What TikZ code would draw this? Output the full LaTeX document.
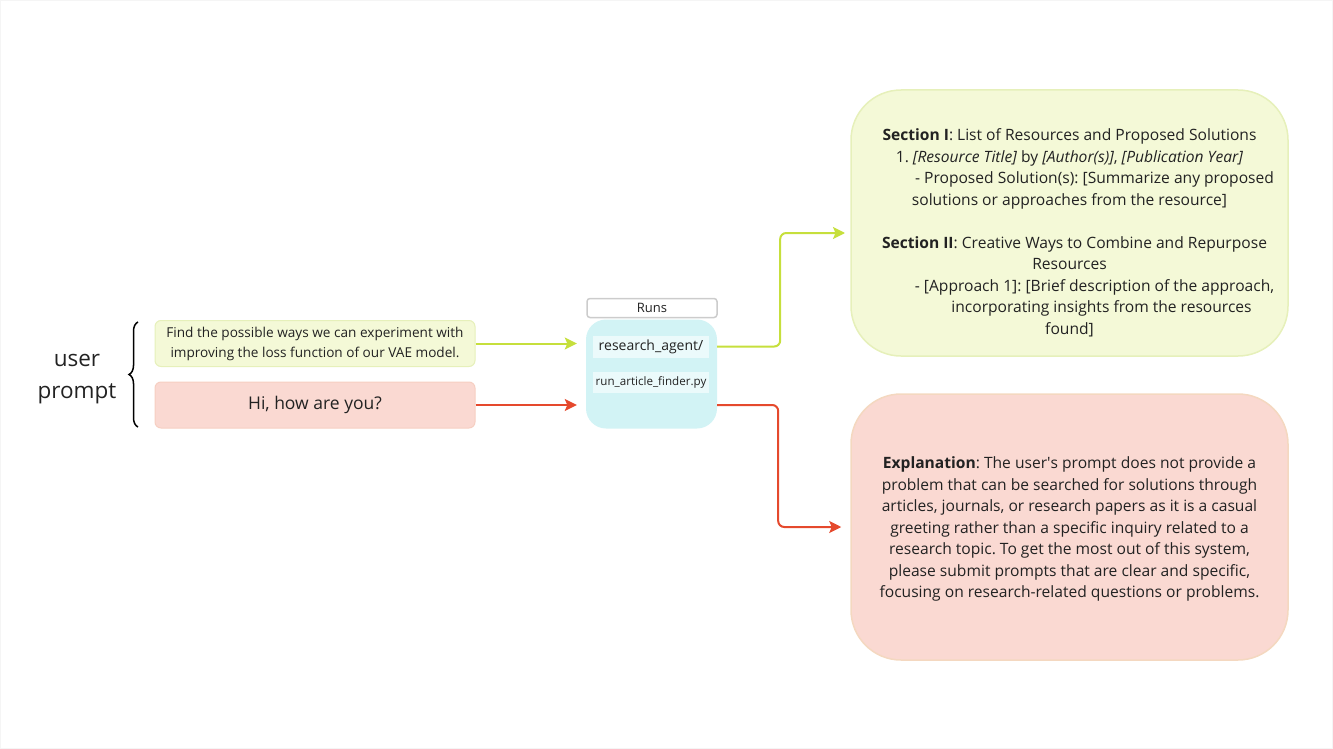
\documentclass[tikz,border=0pt]{standalone}
\usepackage{fontspec}
\setmainfont{Open Sans}
\usetikzlibrary{arrows.meta,decorations.pathreplacing,positioning}

\definecolor{greenfill}{HTML}{F4F9D7}
\definecolor{greenline}{HTML}{E6F0BA}
\definecolor{redfill}{HTML}{FAD9D2}
\definecolor{redline}{HTML}{F6CFC2}
\definecolor{tanline}{HTML}{F4D8C0}
\definecolor{cyanfill}{HTML}{D2F3F5}
\definecolor{labelfill}{HTML}{EBFAFB}
\definecolor{greenarrow}{HTML}{C6DF3C}
\definecolor{redarrow}{HTML}{E5492D}
\definecolor{textgray}{HTML}{222222}

\frenchspacing

\begin{document}
\begin{tikzpicture}[x=1pt,y=-1pt,
    every node/.style={text=textgray},
    prompt box/.style={rectangle,rounded corners=6pt,draw,line width=1pt,
        minimum width=320pt,minimum height=46pt,align=center},
    answer box/.style={rectangle,rounded corners=50pt,draw,line width=1.5pt,
        minimum width=437pt,minimum height=266pt},
    answer text/.style={align=center,font=\fontsize{15.6}{21.5}\selectfont},
    file label/.style={rectangle,fill=labelfill,minimum width=116pt,align=center},
    green link/.style={draw=greenarrow,line width=2pt,rounded corners=6pt,
        -{Stealth[length=12pt,width=12pt,inset=2.5pt]}},
    red link/.style={draw=redarrow,line width=2pt,rounded corners=6pt,
        -{Stealth[length=12pt,width=12pt,inset=2.5pt]}}]

    \useasboundingbox (0,0) rectangle (1333,749);
    \draw[gray!8] (0.5,0.5) rectangle (1332.5,748.5);

    % Define prompts
    \node[font=\fontsize{22.5}{32}\selectfont,align=center] (user) at (77,379) {user\\prompt};
    \node[prompt box,fill=greenfill,draw=greenline,
        font=\fontsize{13.6}{20}\selectfont] (vae) at (315,343.5)
        {Find the possible ways we can experiment with\\improving the loss function of our VAE model.};
    \node[prompt box,fill=redfill,draw=redline,
        font=\fontsize{17.5}{22}\selectfont] (hi) at (315,405) {Hi, how are you?};
    \draw[decorate,decoration={brace,amplitude=9pt},line width=1.5pt]
        (138,427) -- (138,322);

    % Define agent
    \node[rectangle,rounded corners=3pt,draw=gray!40,line width=1.5pt,fill=white,
        minimum width=130pt,minimum height=19pt,inner sep=0pt,
        font=\fontsize{13}{15}\selectfont] (runs) at (652,308) {Runs};
    \node[rectangle,rounded corners=20pt,fill=cyanfill,
        minimum width=131pt,minimum height=109pt] (agent) at (651.5,374) {};
    \node[file label,minimum height=22pt,font=\fontsize{14}{17}\selectfont]
        (folder) at (651,346.5) {research\_agent/};
    \node[file label,minimum height=21pt,inner sep=1pt,font=\fontsize{11.6}{14}\selectfont]
        (finder) at (651,382.5) {run\_article\_finder.py};

    % Define answers
    \node[answer box,fill=greenfill,draw=greenline] (sections) at (1069.5,223) {};
    \node[answer text] (sectionstext) at (1069.5,233)
        {\textbf{Section I}: List of Resources and Proposed Solutions\\
         1. \textit{[Resource Title]} by \textit{[Author(s)]}, \textit{[Publication Year]}\\
         \hspace*{50pt}- Proposed Solution(s): [Summarize any proposed\\
         solutions or approaches from the resource]\\[21.5pt]
         \hspace*{10pt}\textbf{Section II}: Creative Ways to Combine and Repurpose\\
         Resources\\
         \hspace*{50pt}- [Approach 1]: [Brief description of the approach,\\
         \hspace*{64pt}incorporating insights from the resources\\
         found]};
    \node[answer box,fill=redfill,draw=tanline] (expl) at (1069.5,527) {};
    \node[answer text] (expltext) at (1069.5,529)
        {\textbf{Explanation}: The user\textquotesingle s prompt does not provide a\\
         problem that can be searched for solutions through\\
         articles, journals, or research papers as it is a casual\\
         greeting rather than a specific inquiry related to a\\
         research topic. To get the most out of this system,\\
         please submit prompts that are clear and specific,\\
         focusing on research-related questions or problems.};
    \coordinate (secin) at (845,233);

    % Draw links
    \draw[green link,shorten >=9pt] (vae.east) -- (vae.east -| agent.west);
    \draw[red link,shorten >=9pt] (hi.east) -- (hi.east -| agent.west);
    \draw[green link] (folder.east -| agent.east) -- ++(63,0) |- (secin);
    \draw[red link,shorten >=9pt] (hi.east -| agent.east) -- ++(61,0) |- (expl.west);

\end{tikzpicture}
\end{document}
